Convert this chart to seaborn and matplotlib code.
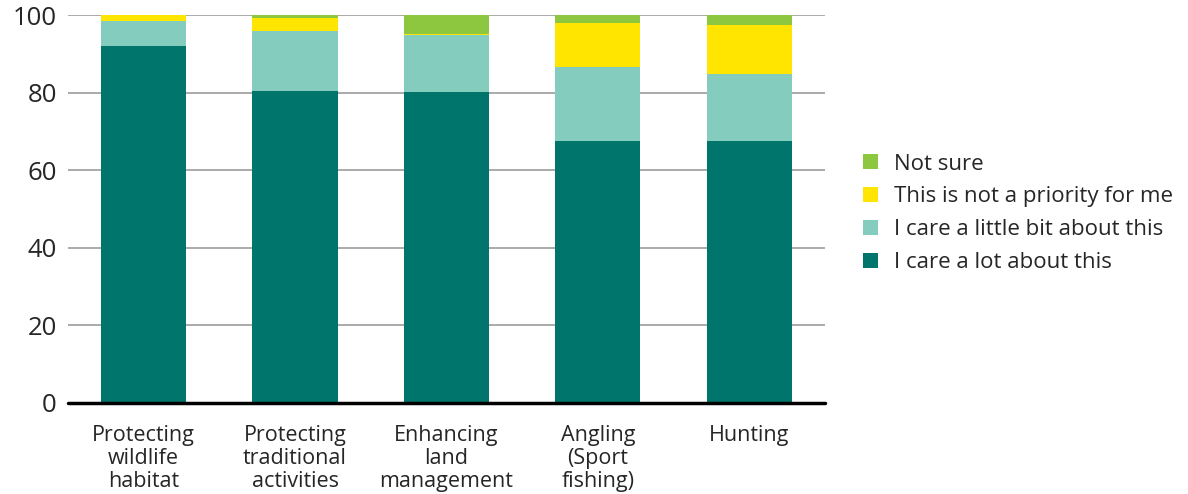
import matplotlib
matplotlib.use("Agg")
import matplotlib.pyplot as plt
from matplotlib.patches import Patch
import seaborn as sns
import numpy as np
import pandas as pd

categories = ["Protecting\nwildlife\nhabitat", "Protecting\ntraditional\nactivities",
              "Enhancing\nland\nmanagement", "Angling\n(Sport\nfishing)", "Hunting"]
care_lot = [92.0, 80.5, 80.1, 67.5, 67.5]
care_little = [6.5, 15.4, 14.8, 19.1, 17.3]
not_priority = [1.5, 3.4, 0.3, 11.3, 12.6]
not_sure = [0.0, 0.7, 4.8, 2.1, 2.6]

series_names = ["I care a lot about this", "I care a little bit about this",
                "This is not a priority for me", "Not sure"]
colors = ["#00756B", "#84CDBE", "#FFE500", "#8DC63F"]

sns.set_theme(style="white")
plt.rcParams["font.family"] = ["Open Sans", "DejaVu Sans"]

fig = plt.figure(figsize=(11.88, 4.94), dpi=100)
ax = fig.add_axes([0.0572, 0.1852, 0.6372, 0.7844])

values = [care_lot, care_little, not_priority, not_sure]
cum = np.cumsum(np.array(values), axis=0)

for gl in [20, 40, 60, 80, 100]:
    ax.axhline(gl, color="#aaaaaa", lw=1.4, zorder=0)

# draw cumulative totals from top down so each layer covers the ones above it
for i in range(len(values) - 1, -1, -1):
    df = pd.DataFrame({"cat": categories, "val": cum[i]})
    sns.barplot(data=df, x="cat", y="val", color=colors[i], saturation=1,
                width=0.563, ax=ax, zorder=2, linewidth=0)

ax.axhline(0, color="black", lw=2.5, zorder=3, clip_on=False)
ax.set_xlim(-0.5, 4.5)
ax.set_ylim(0, 100)
ax.set_yticks([0, 20, 40, 60, 80, 100])
ax.set_yticklabels(["0", "20", "40", "60", "80", "100"], fontsize=18.5)
ax.set_xlabel("")
ax.set_ylabel("")
ax.tick_params(axis="x", labelsize=15.5, length=0, pad=16)
ax.tick_params(axis="y", length=0, pad=8)
for lbl in ax.get_xticklabels():
    lbl.set_linespacing(1.14)
for s in ax.spines.values():
    s.set_visible(False)

handles = [Patch(facecolor=colors[i], edgecolor="none", label=series_names[i]) for i in range(3, -1, -1)]
fig.legend(handles=handles, loc="upper left", bbox_to_anchor=(0.719, 0.707),
           frameon=False, fontsize=16, handlelength=0.65, handleheight=0.65,
           handletextpad=0.75, labelspacing=0.53, borderaxespad=0)

fig.savefig("out.png", dpi=100)
